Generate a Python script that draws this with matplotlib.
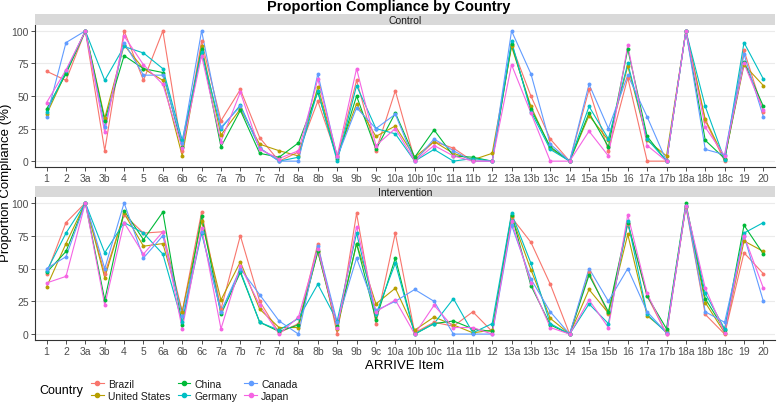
import matplotlib
matplotlib.use("Agg")
import matplotlib.pyplot as plt
from matplotlib.lines import Line2D

plt.rcParams['font.family'] = ['Liberation Sans', 'DejaVu Sans']

items = ["1", "2", "3a", "3b", "4", "5", "6a", "6b", "6c", "7a", "7b", "7c", "7d",
         "8a", "8b", "9a", "9b", "9c", "10a", "10b", "10c", "11a", "11b", "12",
         "13a", "13b", "13c", "14", "15a", "15b", "16", "17a", "17b", "18a", "18b",
         "18c", "19", "20"]

countries = ["Brazil", "United States", "China", "Germany", "Canada", "Japan"]
colors = ["#F8766D", "#B79F00", "#00BA38", "#00BFC4", "#619CFF", "#F564E3"]

# ----- Control -----
control_brazil = [69, 62, 100, 8, 100, 62, 100, 8, 92, 31, 55, 18, 0, 7, 46, 3, 62, 8, 54, 1,
                  15, 10, 0, 0, 89, 50, 17, 0, 55, 8, 64, 0, 0, 100, 31, 0, 85, 38]
control_us = [36, 68, 100, 33, 89, 71, 62, 4, 88, 20, 40, 13, 8, 4, 57, 4, 44, 19, 27, 3,
              15, 6, 1, 6, 88, 42, 10, 0, 35, 16, 73, 16, 4, 100, 32, 2, 74, 58]
control_china = [40, 67, 100, 31, 81, 71, 68, 11, 86, 11, 39, 6, 3, 14, 53, 2, 50, 9, 37, 3,
                 24, 4, 3, 0, 90, 40, 11, 0, 37, 11, 86, 19, 0, 100, 16, 2, 76, 42]
control_germany = [38, 69, 100, 62, 88, 83, 71, 16, 84, 25, 43, 10, 0, 3, 54, 0, 58, 25, 21, 0,
                   9, 0, 2, 0, 92, 38, 9, 0, 42, 17, 75, 17, 0, 100, 42, 1, 91, 63]
control_canada = [34, 91, 100, 26, 91, 66, 66, 14, 100, 26, 42, 10, 0, 0, 67, 3, 41, 25, 36, 0,
                  17, 8, 0, 0, 100, 67, 13, 0, 59, 25, 66, 34, 0, 100, 9, 5, 82, 34]
control_japan = [45, 70, 100, 22, 96, 74, 59, 10, 81, 15, 53, 9, 2, 8, 63, 4, 71, 12, 25, 0,
                 12, 4, 0, 0, 74, 37, 0, 0, 23, 4, 89, 12, 0, 100, 26, 4, 75, 39]

# ----- Intervention -----
interv_brazil = [46, 85, 100, 46, 91, 77, 78, 17, 93, 19, 75, 25, 1, 8, 69, 0, 92, 8, 77, 1,
                 9, 6, 17, 2, 89, 70, 38, 0, 47, 15, 84, 29, 0, 97, 15, 0, 62, 46]
interv_us = [36, 69, 100, 43, 92, 67, 69, 17, 86, 26, 55, 19, 5, 5, 63, 4, 69, 23, 35, 3,
             13, 7, 1, 3, 90, 49, 12, 0, 34, 16, 76, 14, 2, 98, 24, 1, 71, 63]
interv_china = [47, 63, 100, 26, 94, 72, 93, 7, 90, 15, 47, 9, 2, 7, 63, 6, 69, 11, 58, 0,
                8, 10, 4, 2, 91, 37, 7, 0, 45, 17, 85, 29, 4, 100, 27, 3, 83, 61]
interv_germany = [48, 77, 100, 62, 85, 77, 61, 9, 77, 17, 48, 9, 3, 12, 38, 10, 77, 15, 54, 0,
                  8, 27, 1, 8, 92, 54, 8, 0, 23, 8, 86, 15, 1, 98, 31, 4, 77, 85]
interv_canada = [50, 59, 100, 50, 100, 58, 75, 14, 78, 17, 50, 30, 10, 0, 67, 9, 58, 18, 25, 34,
                 25, 0, 0, 0, 83, 42, 17, 0, 50, 25, 50, 17, 1, 98, 17, 9, 75, 25]
interv_japan = [39, 44, 100, 22, 85, 61, 78, 4, 81, 4, 52, 22, 0, 13, 65, 5, 82, 17, 26, 0,
                22, 5, 5, 0, 86, 39, 5, 0, 26, 5, 91, 31, 0, 98, 35, 1, 75, 35]

panels = [
    ("Control", [control_brazil, control_us, control_china, control_germany,
                 control_canada, control_japan]),
    ("Intervention", [interv_brazil, interv_us, interv_china, interv_germany,
                      interv_canada, interv_japan]),
]

W, H = 778, 410
fig = plt.figure(figsize=(W / 100, H / 100), dpi=100)

# panel boxes in pixels: (top, bottom)
boxes = [(26, 168), (198, 341)]
left_px, right_px = 35, 775
strip_h = 11.5

x = list(range(len(items)))

for (name, series), (top, bot) in zip(panels, boxes):
    ax = fig.add_axes([left_px / W, 1 - bot / H, (right_px - left_px) / W, (bot - top) / H])
    for vals, c in zip(series, colors):
        ax.plot(x, vals, color=c, lw=0.8, zorder=2)
    for vals, c in zip(series, colors):
        ax.scatter(x, vals, color=c, s=8, zorder=3, linewidths=0)
    ax.set_xlim(-0.6, len(items) - 0.4)
    ax.set_ylim(-4.5, 104.5)
    ax.set_yticks([0, 25, 50, 75, 100])
    ax.set_xticks(x)
    ax.set_xticklabels(items)
    ax.grid(axis='y', color='#EBEBEB', lw=0.8)
    ax.set_axisbelow(True)
    for s in ['top', 'right']:
        ax.spines[s].set_visible(False)
    for s in ['left', 'bottom']:
        ax.spines[s].set_color('#333333')
        ax.spines[s].set_linewidth(0.8)
    ax.tick_params(axis='both', labelsize=7.5, colors='#333333', labelcolor='#4D4D4D',
                   length=3, width=0.6, pad=1.5)

    # facet strip
    sax = fig.add_axes([left_px / W, 1 - top / H, (right_px - left_px) / W, strip_h / H])
    sax.set_facecolor('#D9D9D9')
    sax.set_xticks([])
    sax.set_yticks([])
    for s in sax.spines.values():
        s.set_visible(False)
    sax.text(0.5, 0.45, name, ha='center', va='center', fontsize=7.5, color='#1A1A1A',
             transform=sax.transAxes)

fig.text(0.5, 1 - 6.5 / H, "Proportion Compliance by Country", ha='center', va='center',
         fontsize=10.5, fontweight='bold')
fig.text(6.5 / W, 1 - 183 / H, "Proportion Compliance (%)", rotation=90, ha='center',
         va='center', fontsize=9.5)
fig.text(405 / W, 1 - 366 / H, "ARRIVE Item", ha='center', va='center', fontsize=9.5)

handles = [Line2D([0], [0], color=c, lw=0.8, marker='o', markersize=3) for c in colors]
fig.text(39 / W, 1 - 391 / H, "Country", ha='left', va='center', fontsize=9)
leg = fig.legend(handles, countries, ncol=3, loc='center left',
                 bbox_to_anchor=(86 / W, 1 - 391 / H), frameon=False, fontsize=7.5,
                 handlelength=1.2, handletextpad=0.4, columnspacing=0.7, labelspacing=0.2,
                 borderpad=0)
for t in leg.get_texts():
    t.set_color('#1A1A1A')

fig.savefig("out.png", dpi=100)
